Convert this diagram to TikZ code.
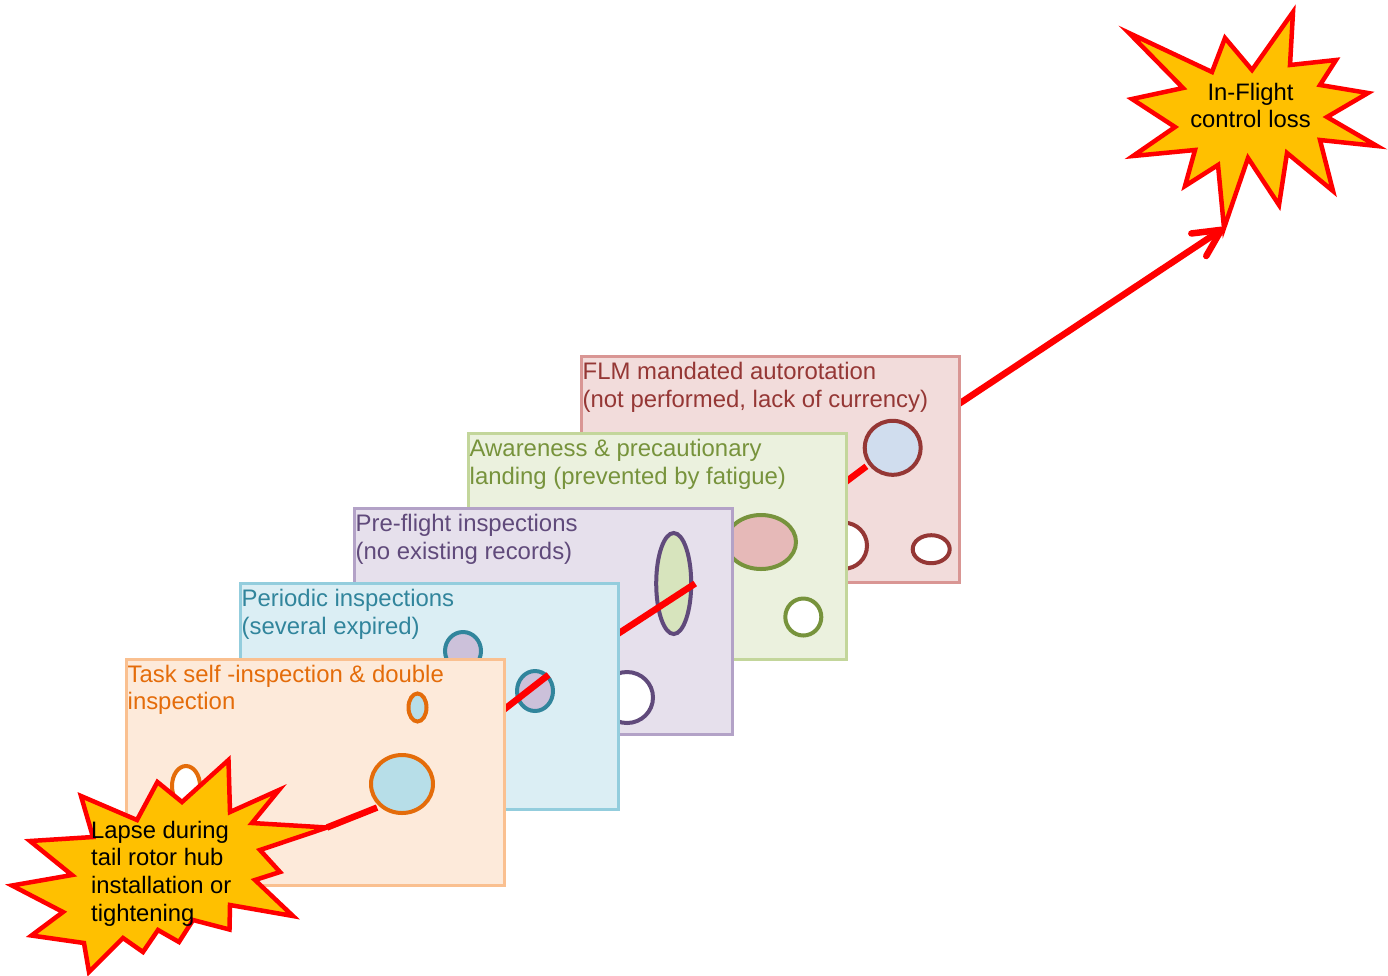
\documentclass[tikz,border=0pt]{standalone}
\usepackage{fontspec}
\setmainfont{Liberation Sans}
\usetikzlibrary{shapes.geometric,arrows.meta}
\definecolor{oFill}{HTML}{FDEADA}\definecolor{oLine}{HTML}{FAC090}\definecolor{oText}{HTML}{E46C0A}\definecolor{oHole}{HTML}{B7DEE8}
\definecolor{bFill}{HTML}{DBEEF4}\definecolor{bLine}{HTML}{93CDDD}\definecolor{bText}{HTML}{31859C}\definecolor{bHole}{HTML}{CCC1DA}
\definecolor{pFill}{HTML}{E6E0EC}\definecolor{pLine}{HTML}{B3A2C7}\definecolor{pText}{HTML}{604A7B}\definecolor{pHole}{HTML}{D7E4BD}
\definecolor{gFill}{HTML}{EBF1DE}\definecolor{gLine}{HTML}{C3D69B}\definecolor{gText}{HTML}{77933C}\definecolor{gHole}{HTML}{E6B9B8}
\definecolor{rFill}{HTML}{F2DCDB}\definecolor{rLine}{HTML}{D99694}\definecolor{rText}{HTML}{953735}\definecolor{rHole}{HTML}{D0DDEE}
\definecolor{burstFill}{HTML}{FFC000}
\definecolor{pureRed}{HTML}{FF0000}
\begin{document}
\begin{tikzpicture}[x=1pt,y=-1pt,
  slice/.style={draw, line width=3pt, rectangle, inner sep=0pt, minimum width=378pt, minimum height=226pt, anchor=north west},
  hole/.style={draw, ellipse, line width=4pt, inner sep=0pt},
  stext/.style={anchor=north west, inner sep=0pt, align=left, font=\fontsize{23.9}{27.5}\selectfont},
  redline/.style={draw=pureRed, line width=6.5pt},
  burst/.style={fill=burstFill, draw=pureRed, line width=4.5pt, line join=miter, miter limit=20},
  btext/.style={inner sep=0pt, text=black, font=\fontsize{23.8}{27.6}\selectfont},
]
\useasboundingbox (0,0) rectangle (1388,975);

% arrow to the final event (under the red slice)
\coordinate (re1c) at (892.7,447.8);
\coordinate (b2tip) at (1224,228);
\draw[redline,-{Straight Barb[length=27pt,width=27pt,round]}] (re1c) -- (b2tip);

% red slice
\node[slice, draw=rLine, fill=rFill] (s5) at (580,355) {};
\node[stext, text=rText] (t5) at (582.5,361.5) {\rule{0pt}{18pt}FLM mandated autorotation\\(not performed, lack of currency)};
\node[hole, draw=rText, fill=white, minimum width=46pt, minimum height=46pt] (re2) at (844,545.7) {};
\node[hole, draw=rText, fill=white, minimum width=37pt, minimum height=28pt] (re3) at (931.2,549.2) {};
\node[hole, draw=rText, fill=rHole, minimum width=56pt, minimum height=54pt] (re1) at (re1c) {};
\coordinate (r0) at (815,505);
\draw[redline, shorten >=2.5pt] (r0) -- (re1.215);

% green slice
\node[slice, draw=gLine, fill=gFill] (s4) at (467,432) {};
\node[stext, text=gText] (t4) at (469.5,438.5) {\rule{0pt}{18pt}Awareness \& precautionary\\landing (prevented by fatigue)};
\node[hole, draw=gText, fill=gHole, minimum width=70pt, minimum height=54pt] (ge1) at (761,542) {};
\node[hole, draw=gText, fill=white, minimum width=36pt, minimum height=37pt] (ge2) at (803.3,617) {};

% purple slice
\node[slice, draw=pLine, fill=pFill] (s3) at (353,507) {};
\node[stext, text=pText] (t3) at (355.5,513.5) {\rule{0pt}{18pt}Pre-flight inspections\\(no existing records)};
\node[hole, draw=pText, fill=white, minimum width=52pt, minimum height=51pt] (pe2) at (627,697.5) {};
\node[hole, draw=pText, fill=pHole, minimum width=35pt, minimum height=101pt] (pe1) at (673.7,583.5) {};
\coordinate (p0) at (590,652);
\draw[redline] (p0) -- ([xshift=2pt]pe1.east);

% blue slice
\node[slice, draw=bLine, fill=bFill] (s2) at (239,582) {};
\node[stext, text=bText] (t2) at (241.5,588.5) {\rule{0pt}{18pt}Periodic inspections\\(several expired)};
\node[hole, draw=bText, fill=bHole, minimum width=36pt, minimum height=38pt] (be1) at (463,651) {};
\node[hole, draw=bText, fill=bHole, minimum width=36pt, minimum height=40pt] (be2) at (535,691) {};
\coordinate (bl0) at (470,736);
\draw[redline] (bl0) -- (be2.50);

% orange slice
\node[slice, draw=oLine, fill=oFill] (s1) at (125,658) {};
\node[stext, text=oText] (t1) at (127.5,664) {\rule{0pt}{18pt}Task self -inspection \& double\\inspection};
\node[hole, draw=oText, fill=oHole, minimum width=18pt, minimum height=28pt] (oe1) at (417.5,707.5) {};
\node[hole, draw=oText, fill=oHole, minimum width=62pt, minimum height=58pt] (oe2) at (402,784) {};
\node[hole, draw=oText, fill=white, minimum width=28pt, minimum height=40pt] (oe3) at (186,786) {};
\coordinate (b1tip) at (327,827.5);
\draw[redline, shorten >=2.5pt] (b1tip) -- (oe2.225);

% starting event burst
\draw[burst] (228.5,760) -- (230,812) -- (279,790) -- (252,823) -- (b1tip) -- (260,850) -- (280,872) -- (255,880)
  -- (293,916) -- (230,905) -- (229.5,929.5) -- (193,920) -- (179,942) -- (158,930) -- (143,952) -- (123,938)
  -- (89,972) -- (84,943) -- (31.5,935.5) -- (63,912) -- (12,885.5) -- (72,875) -- (30,841) -- (93,837)
  -- (81,796) -- (137,820) -- (157.4,782) -- (182,802) -- cycle;
\node[btext, anchor=north west, align=left] (bt1) at (91,820) {\rule{0pt}{18pt}Lapse during\\tail rotor hub\\installation or\\tightening};

% final event burst
\draw[burst] (1293,12) -- (1290,65) -- (1336,60) -- (1320,85) -- (1368,93) -- (1327,117) -- (1377,146)
  -- (1320,140) -- (1333,191) -- (1287,153) -- (1279,205) -- (1248,158) -- (b2tip) -- (1218,165)
  -- (1185,186) -- (1195,150) -- (1133,156) -- (1175,127) -- (1132,99) -- (1183,88) -- (1129,33)
  -- (1212,72) -- (1225,38) -- (1252,70) -- cycle;
\node[btext, anchor=north, align=center] (bt2) at (1250.5,82) {\rule{0pt}{18pt}In-Flight\\control loss};
\end{tikzpicture}
\end{document}
